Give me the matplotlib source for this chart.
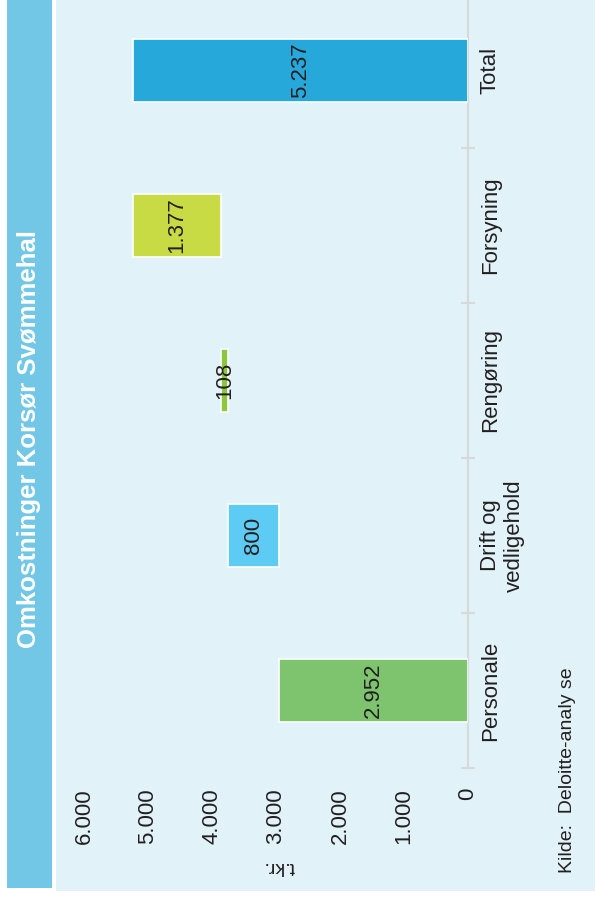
import matplotlib
matplotlib.use("Agg")
import matplotlib.pyplot as plt
from matplotlib.patches import Rectangle
import numpy as np

plt.rcParams['font.family'] = ['Liberation Sans', 'DejaVu Sans']

# ---- data ----
categories = ["Personale", "Drift og\nvedligehold", "Rengøring", "Forsyning", "Total"]
values = [2952, 800, 108, 1377, 5237]
is_total = [False, False, False, False, True]
bar_colors = ["#7EC46F", "#5ECBF4", "#8DC63F", "#C9DB44", "#27A8DA"]
value_ticks = [0, 1000, 2000, 3000, 4000, 5000, 6000]
title = "Omkostninger Korsør Svømmehal"
unit_label = "t.kr."
source_label = "Kilde:  Deloitte-analy se"

def fmt(v):
    return f"{v:,}".replace(",", ".")

# waterfall bases
bases = []
running = 0
for v, t in zip(values, is_total):
    if t:
        bases.append(0)
    else:
        bases.append(running)
        running += v

W, H = 595, 899
fig = plt.figure(figsize=(W / 100, H / 100), dpi=100)
fig.patch.set_facecolor("white")

def px(x0, y0, x1, y1):
    # pixel box (top-left origin) -> figure fraction rect
    return (x0 / W, 1 - y1 / H, (x1 - x0) / W, (y1 - y0) / H)

# panel background
r = px(56, 0, 595, 891)
fig.patches.append(Rectangle((r[0], r[1]), r[2], r[3], transform=fig.transFigure,
                             facecolor="#E1F3F8", edgecolor="none", zorder=-2))
# title band
r = px(7, 0, 52, 888)
fig.patches.append(Rectangle((r[0], r[1]), r[2], r[3], transform=fig.transFigure,
                             facecolor="#72C7E7", edgecolor="none", zorder=-2))
fig.text(29.5 / W, 1 - 438.5 / H, title, rotation=90, ha="center", va="center",
         color="white", fontsize=18.5, fontweight="bold")

text_color = "#231F20"

# axes: value axis horizontal (inverted), category axis vertical
ax = fig.add_axes([84 / W, (H - 768) / H, (468 - 84) / W, 775 / H])
ax.set_zorder(2)
ax.set_facecolor("none")
ypos = np.arange(len(categories))
ax.barh(ypos, values, left=bases, height=0.41, color=bar_colors,
        edgecolor="white", linewidth=1.2, zorder=3)

for i, (b, v) in enumerate(zip(bases, values)):
    ax.text(b + v / 2, i, fmt(v), rotation=90, ha="center", va="center",
            fontsize=16, color=text_color, zorder=4)

ax.set_xlim(6000, 0)
ax.set_ylim(-0.5, 4.5)

for s in ["left", "top", "bottom"]:
    ax.spines[s].set_visible(False)
ax.spines["right"].set_color("#D9D9D9")
ax.spines["right"].set_linewidth(1.5)

ax.set_xticks(value_ticks)
ax.set_xticklabels([fmt(v) for v in value_ticks], rotation=90)
ax.tick_params(axis="x", length=0, pad=14.4, labelsize=16, labelcolor=text_color)

ax.yaxis.tick_right()
ax.set_yticks(ypos)
ax.set_yticklabels(categories, rotation=90)
ax.set_yticks(np.arange(-0.5, 4.0, 1.0), minor=True)
ax.tick_params(axis="y", which="major", length=0, pad=8.6, labelsize=16,
               labelcolor=text_color)
ax.tick_params(axis="y", which="minor", direction="inout", length=9.4, width=1.5,
               color="#D9D9D9")
for lab in ax.get_yticklabels():
    lab.set_multialignment("center")
    lab.set_verticalalignment("center")

fig.text(279 / W, 1 - 867 / H, unit_label, rotation=180, ha="center", va="center",
         fontsize=14, color=text_color)
fig.text(568 / W, 1 - 873 / H, source_label, rotation=90, ha="center", va="bottom",
         fontsize=14, color=text_color)

fig.savefig("out.png", dpi=100, facecolor=fig.get_facecolor())
